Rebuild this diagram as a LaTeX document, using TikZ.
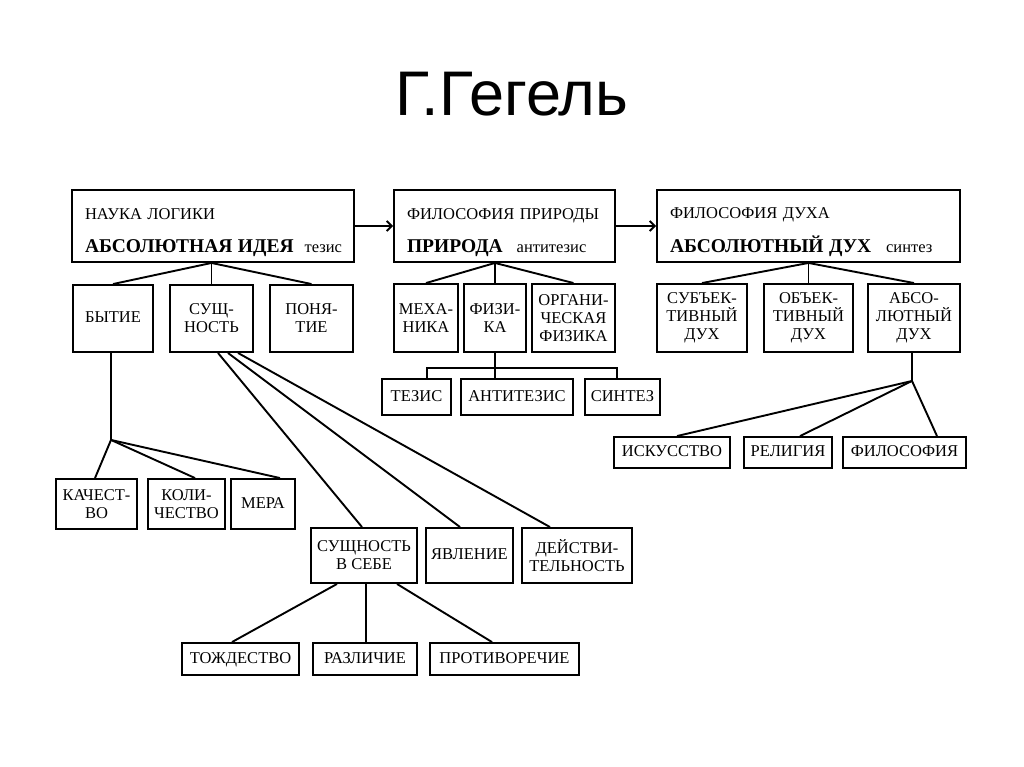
\documentclass[tikz,border=0pt]{standalone}
\usepackage{fontspec}
\setmainfont{Liberation Serif}
\newfontfamily\titlefont{Liberation Sans}
\usetikzlibrary{arrows.meta,calc}

\newcommand{\headbf}{\fontsize{19.5}{20}\selectfont\bfseries}
\newcommand{\headstrut}{\rule{0pt}{24pt}}

\begin{document}
\begin{tikzpicture}[x=1pt, y=-1pt, line width=1.9pt,
	box/.style={draw, align=center, inner sep=2pt, font=\fontsize{16.5}{18}\selectfont},
	onebox/.style={box, text height=11.5pt, text depth=3pt},
	headbox/.style={draw, align=left, inner xsep=13pt, inner ysep=3pt, minimum height=72pt, font=\fontsize{16.5}{20}\selectfont},
	link/.style={-{Straight Barb[length=5pt,width=10pt]}}]
	\useasboundingbox (0,0) rectangle (1024,767);
	%title
	\node[font=\titlefont\fontsize{63}{64}\selectfont] (title) at (512,94) {Г.Гегель};
	
	%main parts
	\node[headbox, text width=256pt] (logic) at (213,226)
	{\headstrut НАУКА ЛОГИКИ\\[13pt]\mbox{{\headbf АБСОЛЮТНАЯ ИДЕЯ}\hspace{11pt}тезис}};
	\node[headbox, text width=195pt] (nature) at (504.5,226)
	{\headstrut\mbox{ФИЛОСОФИЯ ПРИРОДЫ}\\[13pt]\mbox{{\headbf ПРИРОДА}\hspace{14pt}антитезис}};
	\node[headbox, text width=277pt] (spirit) at (808.5,226)
	{\headstrut ФИЛОСОФИЯ ДУХА\\[13pt]\mbox{{\headbf АБСОЛЮТНЫЙ ДУХ}\hspace{15pt}синтез}};
	\draw[link] (logic) -- (nature);
	\draw[link] (nature) -- (spirit);
	
	%second row
	\node[onebox, minimum width=80pt, minimum height=67pt] (being) at (113,318.5) {БЫТИЕ};
	\node[box, minimum width=83pt, minimum height=67pt] (essence) at (211.5,318.5) {СУЩ-\\НОСТЬ};
	\node[box, minimum width=83pt, minimum height=67pt] (concept) at (311.5,318.5) {ПОНЯ-\\ТИЕ};
	\node[box, minimum width=64pt, minimum height=68pt] (mech) at (426,318) {МЕХА-\\НИКА};
	\node[box, minimum width=62pt, minimum height=68pt] (phys) at (495,318) {ФИЗИ-\\КА};
	\node[box, minimum width=83pt, minimum height=68pt] (organic) at (573.5,318) {ОРГАНИ-\\ЧЕСКАЯ\\ФИЗИКА};
	\node[box, minimum width=90pt, minimum height=68pt] (subj) at (702,318) {СУБЪЕК-\\ТИВНЫЙ\\ДУХ};
	\node[box, minimum width=89pt, minimum height=68pt] (obj) at (808.5,318) {ОБЪЕК-\\ТИВНЫЙ\\ДУХ};
	\node[box, minimum width=92pt, minimum height=68pt] (absol) at (914,318) {АБСО-\\ЛЮТНЫЙ\\ДУХ};
	
	\coordinate (lj) at (logic.south -| essence.north);
	\draw (lj) -- (being.north);
	\draw (lj) -- (essence.north);
	\draw (lj) -- (concept.north);
	\coordinate (nj) at (nature.south -| phys.north);
	\draw (nj) -- (mech.north);
	\draw (nj) -- (phys.north);
	\draw (nj) -- (organic.north);
	\coordinate (sj) at (spirit.south -| obj.north);
	\draw (sj) -- (subj.north);
	\draw (sj) -- (obj.north);
	\draw (sj) -- (absol.north);
	
	%physics
	\node[onebox, minimum width=69pt, minimum height=36pt] (thesis) at (416.5,397) {ТЕЗИС};
	\node[onebox, minimum width=112pt, minimum height=36pt] (antith) at (517,397) {АНТИТЕЗИС};
	\node[onebox, minimum width=75pt, minimum height=36pt] (synth) at (622.5,397) {СИНТЕЗ};
	\coordinate (pj) at ($(phys.south)+(0,15)$);
	\draw (phys.south) -- (antith.north -| phys.south);
	\draw ([xshift=10.5pt]thesis.north) |- (pj) -| ([xshift=-5.5pt]synth.north);
	
	%absolute spirit
	\node[onebox, minimum width=116pt, minimum height=31pt] (art) at (672,452.5) {ИСКУССТВО};
	\node[onebox, minimum width=88pt, minimum height=31pt] (religion) at (788,452.5) {РЕЛИГИЯ};
	\node[onebox, minimum width=123pt, minimum height=31pt] (philosophy) at (904.5,452.5) {ФИЛОСОФИЯ};
	\coordinate (aj) at ($(absol.south)+(-2,28)$);
	\draw (absol.south -| aj) -- (aj);
	\draw (aj) -- ([xshift=5pt]art.north);
	\draw (aj) -- ([xshift=12pt]religion.north);
	\draw (aj) -- ([xshift=32.5pt]philosophy.north);
	
	%being
	\node[box, minimum width=81pt, minimum height=50pt] (quality) at (96.5,504) {КАЧЕСТ-\\ВО};
	\node[box, minimum width=77pt, minimum height=50pt] (quantity) at (186.5,504) {КОЛИ-\\ЧЕСТВО};
	\node[onebox, minimum width=64pt, minimum height=50pt] (measure) at (263,504) {МЕРА};
	\coordinate (bj) at ($(being.south)+(-2,87)$);
	\draw (being.south -| bj) -- (bj);
	\draw (bj) -- ([xshift=-1.5pt]quality.north);
	\draw (bj) -- ([xshift=8.5pt]quantity.north);
	\draw (bj) -- ([xshift=17pt]measure.north);
	
	%essence
	\node[box, minimum width=106pt, minimum height=55pt] (initself) at (364,555.5) {СУЩНОСТЬ\\В СЕБЕ};
	\node[onebox, minimum width=87pt, minimum height=55pt] (appearance) at (469.5,555.5) {ЯВЛЕНИЕ};
	\node[box, minimum width=110pt, minimum height=55pt] (actuality) at (577,555.5) {ДЕЙСТВИ-\\ТЕЛЬНОСТЬ};
	\draw ([xshift=6.5pt]essence.south) -- ([xshift=-2pt]initself.north);
	\draw ([xshift=16.5pt]essence.south) -- ([xshift=-9.5pt]appearance.north);
	\draw ([xshift=26.5pt]essence.south) -- ([xshift=-27pt]actuality.north);
	
	%essence in itself
	\node[onebox, minimum width=117pt, minimum height=32pt] (identity) at (240.5,659) {ТОЖДЕСТВО};
	\node[onebox, minimum width=104pt, minimum height=32pt] (difference) at (365,659) {РАЗЛИЧИЕ};
	\node[onebox, minimum width=149pt, minimum height=32pt] (contradiction) at (504.5,659) {ПРОТИВОРЕЧИЕ};
	\draw ([xshift=-27pt]initself.south) -- ([xshift=-8.5pt]identity.north);
	\draw ([xshift=2pt]initself.south) -- ([xshift=1pt]difference.north);
	\draw ([xshift=33pt]initself.south) -- ([xshift=-12.5pt]contradiction.north);
\end{tikzpicture}
\end{document}
